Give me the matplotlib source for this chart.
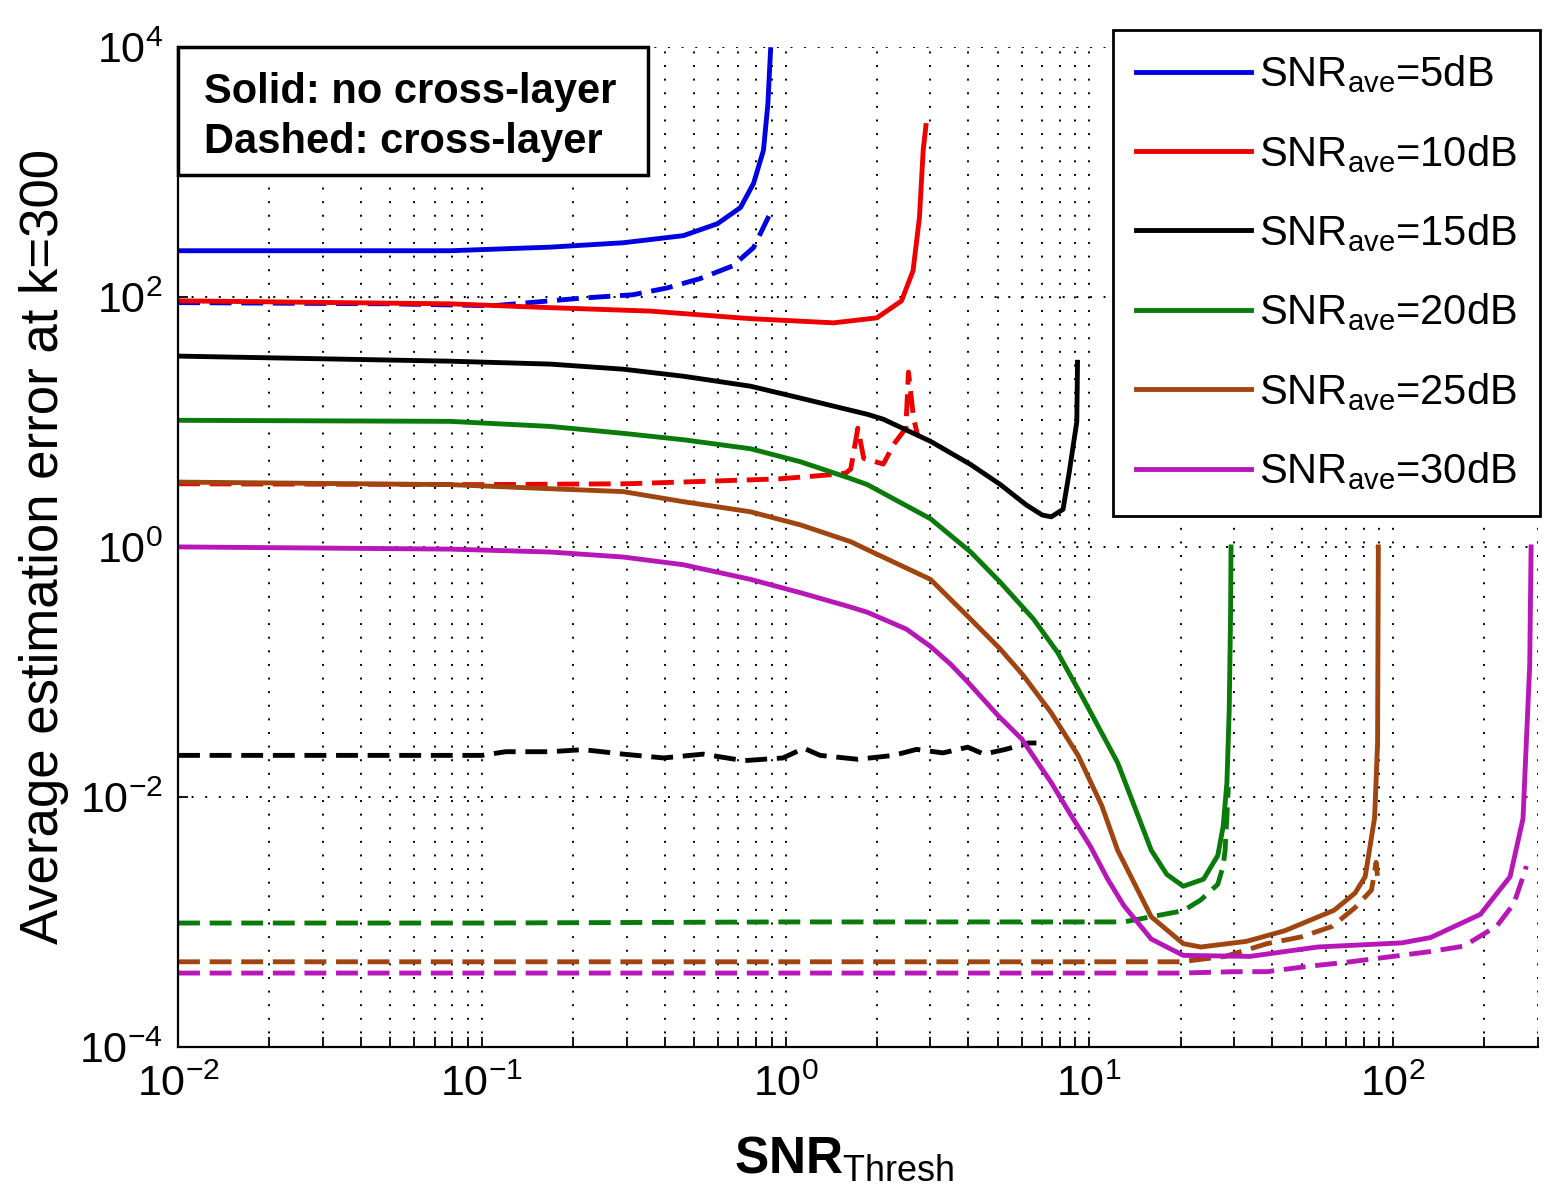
import matplotlib
matplotlib.use("Agg")
import matplotlib.pyplot as plt
from matplotlib.patches import Rectangle
from matplotlib.ticker import LogLocator, NullLocator, NullFormatter, LogFormatterSciNotation

plt.rcParams["font.family"] = ["Liberation Sans", "DejaVu Sans"]
plt.rcParams["mathtext.fontset"] = "custom"
plt.rcParams["mathtext.rm"] = "Liberation Sans"
plt.rcParams["mathtext.bf"] = "Liberation Sans:bold"
plt.rcParams["mathtext.it"] = "Liberation Sans:italic"
plt.rcParams["mathtext.default"] = "regular"
plt.rcParams["axes.unicode_minus"] = False

# legend labels and colours
labels = ["$SNR_{ave}$=5dB", "$SNR_{ave}$=10dB", "$SNR_{ave}$=15dB",
          "$SNR_{ave}$=20dB", "$SNR_{ave}$=25dB", "$SNR_{ave}$=30dB"]
colors = ["#0000e0", "#ee0000", "#000000", "#0a7a0a", "#a0450f", "#b817b8"]

# SNR_ave = 5 dB
x_s5 = [0.01, 0.03, 0.0787, 0.168, 0.292, 0.461, 0.597, 0.711, 0.785, 0.846, 0.875, 0.893]
y_s5 = [234, 234, 234, 250, 271, 309, 385, 519, 809, 1489, 3500, 9500]
x_d5 = [0.01, 0.05, 0.109, 0.216, 0.314, 0.408, 0.523, 0.67, 0.785, 0.893]
y_d5 = [90, 88, 85, 98, 104, 118, 140, 177, 248, 473]

# SNR_ave = 10 dB
x_s10 = [0.01, 0.0787, 0.168, 0.358, 0.765, 1.44, 2.0, 2.41, 2.63, 2.76, 2.84, 2.9]
y_s10 = [93, 88, 82, 77, 67, 62, 68, 93, 162, 430, 1490, 2350]
x_d10 = [0.01, 0.1, 0.3, 0.55, 0.95, 1.45, 1.58, 1.64, 1.73, 1.81, 2.1, 2.27, 2.49, 2.54, 2.64, 2.72]
y_d10 = [3.2, 3.15, 3.2, 3.35, 3.5, 3.8, 3.9, 4.2, 8.9, 5.1, 4.6, 6.6, 8.9, 25, 10.7, 7.9]

# SNR_ave = 15 dB
x_s15 = [0.01, 0.0787, 0.168, 0.292, 0.461, 0.767, 1.12, 1.86, 2.1, 3.0, 4.07, 5.1, 6.2,
         7.0, 7.5, 8.2, 8.6, 8.9, 9.1, 9.15]
y_s15 = [33.6, 30.6, 29, 26.4, 23.2, 19.3, 15.5, 11.5, 10.5, 7.0, 4.56, 3.15, 2.17,
         1.8, 1.74, 2.0, 4.0, 7.0, 10, 30]
x_d15 = [0.01, 0.05, 0.1, 0.12, 0.168, 0.216, 0.292, 0.397, 0.536, 0.728, 0.98, 1.15, 1.3,
         1.73, 2.27, 2.7, 3.3, 3.98, 4.5, 5.3, 6.3, 6.7]
y_d15 = [0.0215, 0.0215, 0.0215, 0.023, 0.023, 0.0239, 0.022, 0.0205, 0.022, 0.0195, 0.0205,
         0.0245, 0.0215, 0.020, 0.0215, 0.024, 0.0225, 0.025, 0.022, 0.024, 0.027, 0.027]

# SNR_ave = 20 dB
x_s20 = [0.01, 0.0787, 0.168, 0.292, 0.461, 0.767, 1.12, 1.64, 1.86, 3.0, 4.07, 5.1, 6.56,
         7.87, 9.6, 12.4, 14.5, 16.0, 18.0, 20.4, 23.8, 26.5, 27.6, 28.4, 28.9, 29.2, 29.3]
y_s20 = [10.3, 10.1, 9.2, 8.1, 7.2, 6.1, 4.8, 3.52, 3.15, 1.68, 0.91, 0.52, 0.264,
         0.143, 0.060, 0.0188, 7.0e-3, 3.75e-3, 2.4e-3, 1.93e-3, 2.2e-3, 3.4e-3, 5.8e-3,
         0.013, 0.05, 0.3, 1.0]
x_d20 = [0.01, 0.1, 1.0, 5.0, 10.0, 13.0, 16.0, 20.4, 23.3, 26.5, 27.6, 28.0, 28.4, 28.7]
y_d20 = [9.8e-4, 9.8e-4, 1.0e-3, 1.0e-3, 1.0e-3, 1.0e-3, 1.1e-3, 1.23e-3, 1.5e-3, 2.0e-3,
         2.8e-3, 3.7e-3, 7.1e-3, 0.012]

# SNR_ave = 25 dB
x_s25 = [0.01, 0.0787, 0.168, 0.292, 0.461, 0.767, 1.12, 1.64, 1.86, 3.0, 4.07, 5.1, 6.06,
         7.5, 9.2, 11.0, 12.4, 16.0, 20.4, 23.3, 33.0, 44.0, 64.0, 75.0, 81.0, 87.0, 89.0, 89.5]
y_s25 = [3.3, 3.15, 2.92, 2.77, 2.3, 1.91, 1.5, 1.1, 0.95, 0.55, 0.264, 0.152, 0.094,
         0.047, 0.0214, 8.5e-3, 3.75e-3, 1.1e-3, 6.7e-4, 6.3e-4, 7.0e-4, 8.5e-4, 1.24e-3,
         1.7e-3, 2.3e-3, 6.8e-3, 0.027, 1.0]
x_d25 = [0.01, 1.0, 10.0, 20.0, 28.0, 38.5, 50.0, 63.0, 75.0, 85.0, 88.0, 89.5]
y_d25 = [4.8e-4, 4.8e-4, 4.8e-4, 4.8e-4, 5.3e-4, 6.7e-4, 7.6e-4, 9.2e-4, 1.3e-3, 1.8e-3,
         3.0e-3, 2.0e-3]

# SNR_ave = 30 dB
x_s30 = [0.01, 0.0787, 0.168, 0.292, 0.461, 0.767, 1.12, 1.64, 1.86, 2.5, 3.0, 3.5, 4.0,
         5.0, 6.0, 7.5, 8.6, 10.1, 11.5, 13.0, 16.0, 20.4, 33.8, 56.5, 107, 133, 194, 243,
         268, 282, 285]
y_s30 = [1.0, 0.96, 0.91, 0.83, 0.72, 0.55, 0.43, 0.33, 0.30, 0.22, 0.16, 0.115, 0.082,
         0.045, 0.029, 0.013, 7.5e-3, 4.0e-3, 2.2e-3, 1.35e-3, 7.3e-4, 5.4e-4, 5.3e-4,
         6.3e-4, 6.8e-4, 7.5e-4, 1.15e-3, 2.3e-3, 6.7e-3, 0.113, 1.0]
x_d30 = [0.01, 20.0, 30.0, 38.5, 52.0, 72.5, 100, 133, 171, 220, 250, 268, 275]
y_d30 = [3.9e-4, 3.9e-4, 4.0e-4, 4.0e-4, 4.4e-4, 4.8e-4, 5.3e-4, 5.8e-4, 6.4e-4, 9.3e-4,
         1.4e-3, 2.3e-3, 2.8e-3]

solid_x = [x_s5, x_s10, x_s15, x_s20, x_s25, x_s30]
solid_y = [y_s5, y_s10, y_s15, y_s20, y_s25, y_s30]
dash_x = [x_d5, x_d10, x_d15, x_d20, x_d25, x_d30]
dash_y = [y_d5, y_d10, y_d15, y_d20, y_d25, y_d30]

fig = plt.figure(figsize=(15.47, 12.02), dpi=100)
ax = fig.add_axes([0.1151, 0.1290, 0.879, 0.832])

handles = []
for i in range(6):
    h, = ax.plot(solid_x[i], solid_y[i], color=colors[i], lw=3.5, solid_joinstyle="round")
    ax.plot(dash_x[i], dash_y[i], color=colors[i], lw=3.5, linestyle=(0, (4.5, 2)))
    handles.append(h)

ax.set_xscale("log")
ax.set_yscale("log")
ax.set_xlim(0.01, 300)
ax.set_ylim(1e-4, 1e4)

ax.set_yticks([1e-4, 1e-2, 1, 1e2, 1e4])
ax.yaxis.set_minor_locator(NullLocator())
ax.xaxis.set_major_locator(LogLocator(base=10))
ax.xaxis.set_minor_locator(LogLocator(base=10, subs=range(2, 10)))
ax.xaxis.set_minor_formatter(NullFormatter())
ax.xaxis.set_major_formatter(LogFormatterSciNotation())
ax.yaxis.set_major_formatter(LogFormatterSciNotation())

ax.set_axisbelow(True)
ax.grid(True, which="major", linestyle=(0, (1, 6)), color="black", lw=1.4)
ax.grid(True, which="minor", axis="x", linestyle=(0, (1, 6)), color="black", lw=1.4)

for s in ["top", "right"]:
    ax.spines[s].set_visible(False)
for s in ["left", "bottom"]:
    ax.spines[s].set_linewidth(1.6)

ax.tick_params(which="both", direction="in", length=7, width=1.3, top=False, right=False)
ax.tick_params(axis="y", labelsize=31, pad=11)
ax.tick_params(axis="x", labelsize=31, pad=13)

ax.set_ylabel("Average estimation error at k=300", fontsize=38)
ax.yaxis.set_label_coords(-0.080, 0.5)
ax.set_xlabel(r"$\mathbf{SNR}_{Thresh}$", fontsize=37)
ax.xaxis.set_label_coords(0.49, -0.088)

# annotation box
ax.add_patch(Rectangle((0, 0.872), 0.3456, 0.128, transform=ax.transAxes,
                       facecolor="white", edgecolor="black", lw=2.5, zorder=5, clip_on=False))
ax.text(0.019, 0.944, "Solid: no cross-layer", transform=ax.transAxes, fontsize=30,
        fontweight="bold", va="baseline", ha="left", zorder=6)
ax.text(0.019, 0.894, "Dashed: cross-layer", transform=ax.transAxes, fontsize=30,
        fontweight="bold", va="baseline", ha="left", zorder=6)

leg = ax.legend(handles, labels, loc="upper left", bbox_to_anchor=(1113 / 1547, 1 - 30 / 1202),
                bbox_transform=fig.transFigure, fontsize=30, fancybox=False, edgecolor="black",
                framealpha=1, handlelength=2.75, handletextpad=0.2, labelspacing=0.9,
                borderpad=0.56, borderaxespad=0)
leg.get_frame().set_linewidth(2)
leg.set_zorder(10)

plt.savefig("out.png", dpi=100)
